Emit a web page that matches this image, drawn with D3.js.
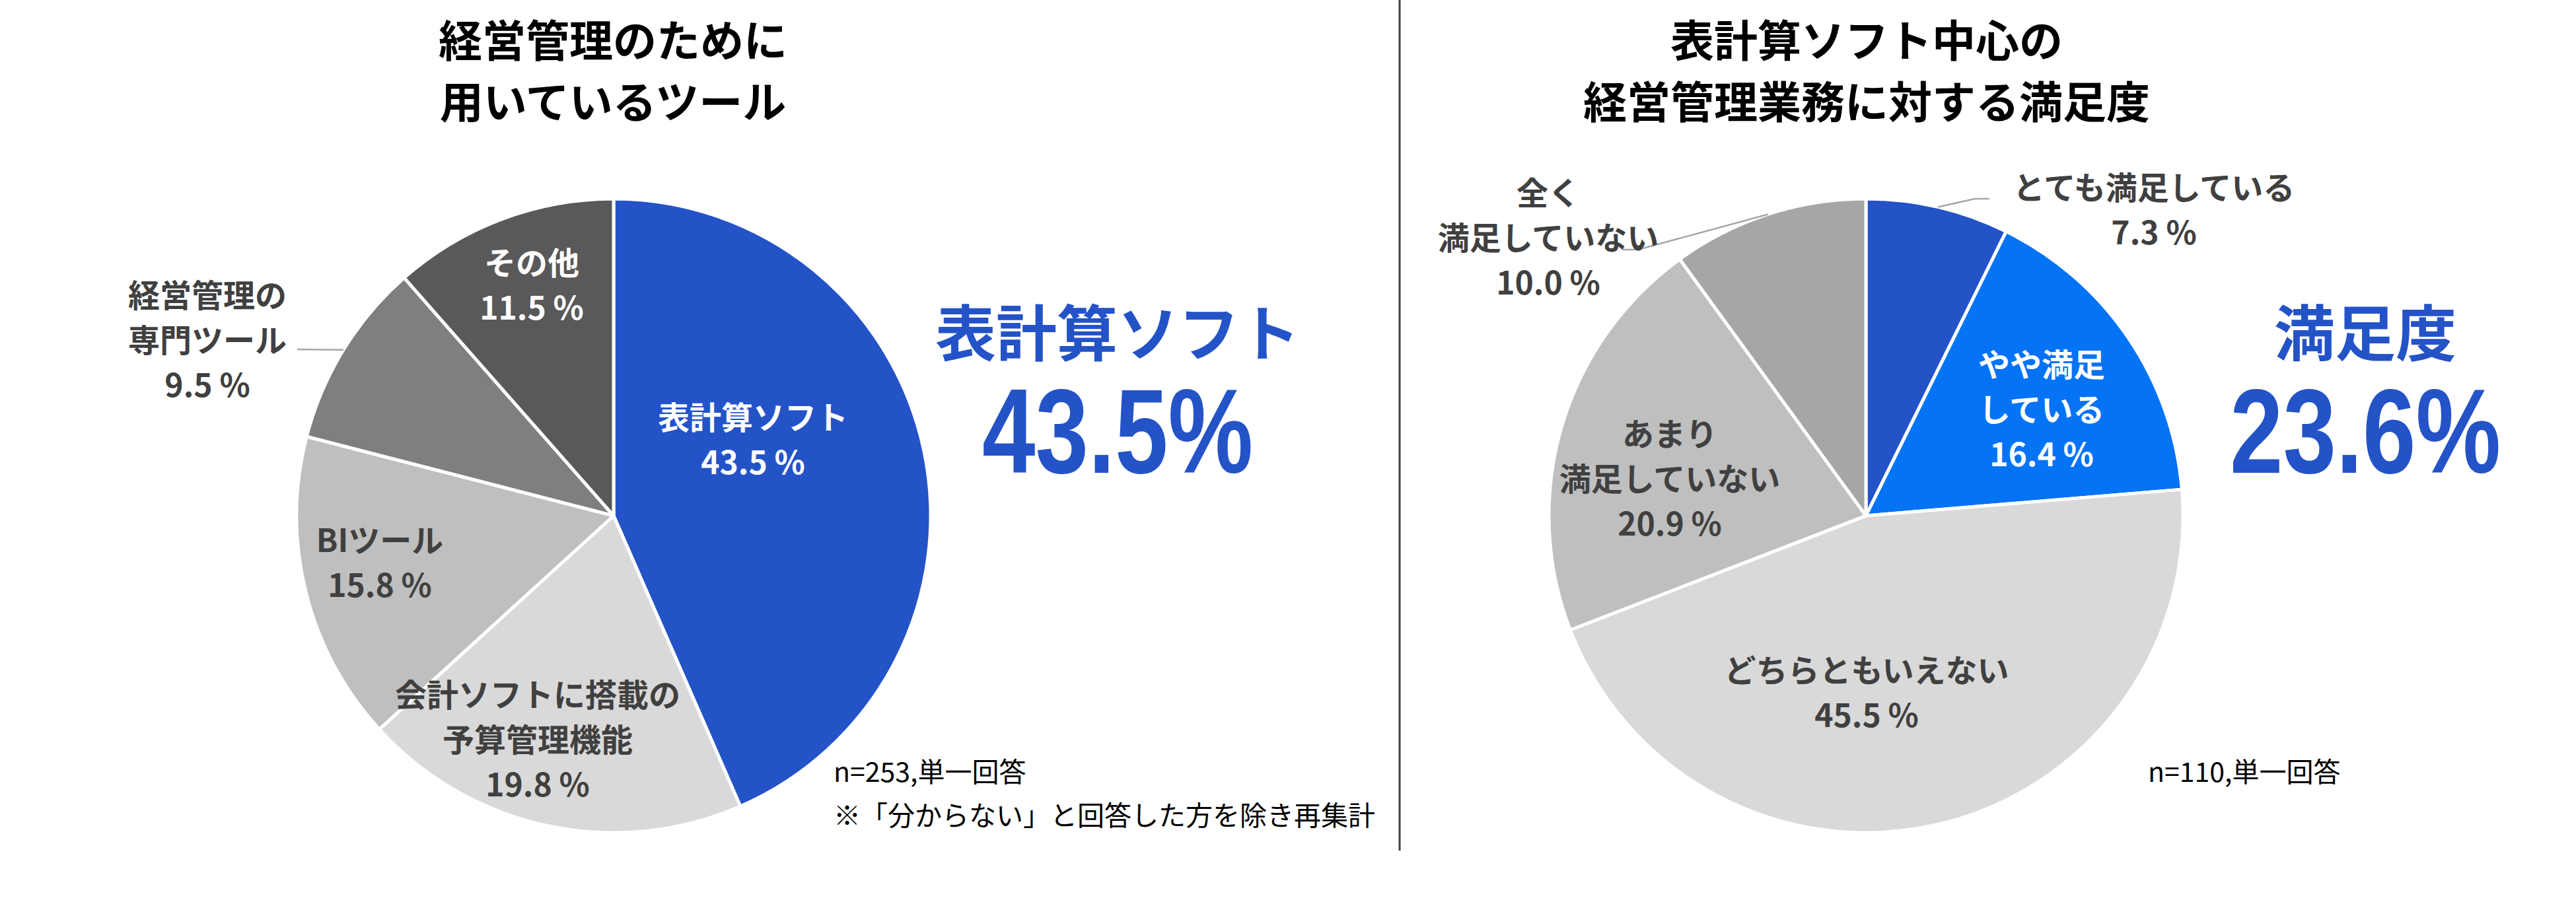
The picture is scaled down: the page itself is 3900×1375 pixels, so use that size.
<!DOCTYPE html>
<html>
<head>
<meta charset="utf-8">
<script src="https://cdn.jsdelivr.net/npm/d3@7"></script>
<style>
  body { margin: 0; background: #fff; }
  svg text { font-family: "Noto Sans CJK JP", "Noto Sans", sans-serif; }
</style>
</head>
<body>
<div id="chart"></div>
<script>
// data
const toolCategories = ["表計算ソフト", "会計ソフトに搭載の\n予算管理機能", "BIツール", "経営管理の\n専門ツール", "その他"];
const toolValues = [43.5, 19.8, 15.8, 9.5, 11.5];
const satCategories = ["とても満足している", "やや満足\nしている", "どちらともいえない", "あまり\n満足していない", "全く\n満足していない"];
const satValues = [7.3, 16.4, 45.5, 20.9, 10.0];
const titles = [["経営管理のために", "用いているツール"], ["表計算ソフト中心の", "経営管理業務に対する満足度"]];
const highlightNames = ["表計算ソフト", "満足度"];
const highlightValues = ["43.5%", "23.6%"];
const notes = [["n=253,単一回答", "※「分からない」と回答した方を除き再集計"], ["n=110,単一回答"]];

const width = 3900, height = 1375;
const blue = "#2453C8";

const svg = d3.select("#chart")
  .append("svg")
  .attr("width", width)
  .attr("height", height)
  .attr("viewBox", [0, 0, width, height]);

svg.append("rect").attr("width", width).attr("height", height).attr("fill", "white");

// divider
svg.append("line")
  .attr("x1", 2119).attr("x2", 2119)
  .attr("y1", 0).attr("y2", 1288)
  .attr("stroke", "#404040")
  .attr("stroke-width", 3);

const r = 480;

// layout per chart: centre, colours, label block centres (offsets from centre), text colours
const charts = [
  {
    cx: 929, cy: 781,
    cats: toolCategories, vals: toolValues,
    colors: [blue, "#D9D9D9", "#BFBFBF", "#7F7F7F", "#595959"],
    textColors: ["#fff", "#404040", "#404040", "#404040", "#fff"],
    labelPos: [[211, -118], [-115, 336], [-354, 68], [-615, -269], [-124, -352]],
    leaders: { 3: [[450, 529]] },
    titleX: 928,
    hlX: 1692,
    noteX: 1262
  },
  {
    cx: 2825, cy: 781,
    cats: satCategories, vals: satValues,
    colors: [blue, "#0573F5", "#D9D9D9", "#BFBFBF", "#A6A6A6"],
    textColors: ["#404040", "#fff", "#404040", "#404040", "#404040"],
    labelPos: [[436, -466], [266, -164], [1, 265], [-297, -59], [-481, -424]],
    leaders: { 0: [[2990, 301], [3012, 301]], 4: [[2480, 378], [2457, 378]] },
    titleX: 2826,
    hlX: 3581,
    noteX: 3252
  }
];

charts.forEach((c, ci) => {
  const pie = d3.pie().sort(null).value(d => d)(c.vals);
  const arc = d3.arc().innerRadius(0).outerRadius(r);
  const g = svg.append("g").attr("transform", `translate(${c.cx},${c.cy})`);

  g.selectAll("path")
    .data(pie)
    .join("path")
    .attr("d", arc)
    .attr("fill", (d, i) => c.colors[i])
    .attr("stroke", "white")
    .attr("stroke-width", 5)
    .attr("stroke-linejoin", "round");

  // leader lines from the slice edge
  Object.keys(c.leaders).forEach(k => {
    const d = pie[+k];
    const a = (d.startAngle + d.endAngle) / 2;
    const pts = [[c.cx + r * Math.sin(a), c.cy - r * Math.cos(a)]].concat(c.leaders[k]);
    svg.append("path")
      .attr("d", d3.line()(pts))
      .attr("fill", "none")
      .attr("stroke", "#A6A6A6")
      .attr("stroke-width", 2.5);
  });

  // data labels
  const lh = 68;
  pie.forEach((d, i) => {
    const lines = c.cats[i].split("\n").concat([d3.format(".1f")(c.vals[i]) + " %"]);
    const [dx, dy] = c.labelPos[i];
    const t = svg.append("text")
      .attr("text-anchor", "middle")
      .attr("font-size", 48)
      .attr("font-weight", 700)
      .attr("fill", c.textColors[i]);
    lines.forEach((s, j) => {
      t.append("tspan")
        .attr("x", c.cx + dx)
        .attr("y", c.cy + dy + (j - (lines.length - 1) / 2) * lh)
        .attr("dominant-baseline", "central")
        .text(s);
    });
  });

  // title
  titles[ci].forEach((s, j) => {
    svg.append("text")
      .attr("x", c.titleX)
      .attr("y", 57 + j * 93)
      .attr("text-anchor", "middle")
      .attr("dominant-baseline", "central")
      .attr("font-size", 66)
      .attr("font-weight", 700)
      .attr("fill", "#000")
      .text(s);
  });

  // highlight
  svg.append("text")
    .attr("x", c.hlX).attr("y", 498)
    .attr("text-anchor", "middle")
    .attr("dominant-baseline", "central")
    .attr("font-size", 92)
    .attr("font-weight", 700)
    .attr("fill", blue)
    .text(highlightNames[ci]);

  svg.append("text")
    .attr("x", c.hlX).attr("y", 716)
    .attr("text-anchor", "middle")
    .style("font-family", '"Liberation Sans Narrow", "Liberation Sans", sans-serif')
    .attr("font-size", 182)
    .attr("font-weight", 700)
    .attr("fill", blue)
    .attr("textLength", 410)
    .attr("lengthAdjust", "spacingAndGlyphs")
    .text(highlightValues[ci]);

  // notes
  notes[ci].forEach((s, j) => {
    svg.append("text")
      .attr("x", c.noteX)
      .attr("y", 1166 + j * 66)
      .attr("dominant-baseline", "central")
      .attr("font-size", 41)
      .attr("font-weight", 400)
      .attr("fill", "#000")
      .text(s);
  });
});
</script>
</body>
</html>
